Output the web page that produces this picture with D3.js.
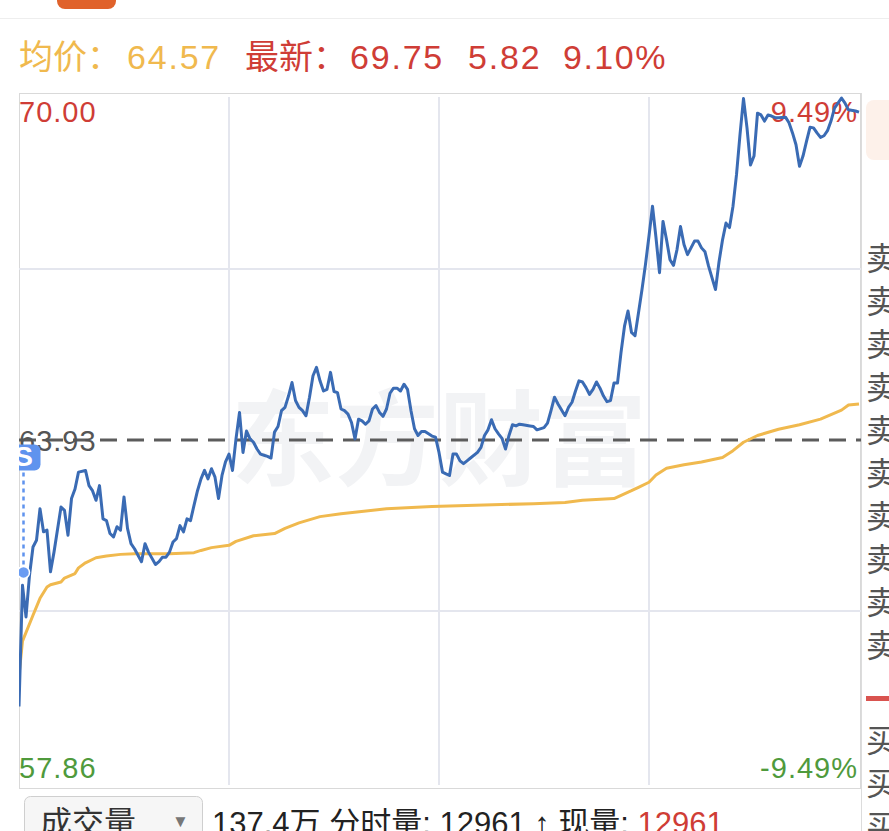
<!DOCTYPE html>
<html>
<head>
<meta charset="utf-8">
<script src="https://cdn.jsdelivr.net/npm/d3@7"></script>
<style>
  html, body { margin: 0; padding: 0; background: #fff; }
  svg { display: block; }
</style>
</head>
<body>
<script>
// ---- data ----
const preClose = 63.93;
const priceMax = 70.00, priceMin = 57.86;
const pctLabels = ['9.49%', '-9.49%'];

const avgPrice = 64.57, lastPrice = 69.75, change = 5.82, changePct = '9.10%';
const volTotal = '137.4万', tickVol = 12961, nowVol = 12961;

// minute index (0 = 9:30, 120 = 11:30/13:00, 240 = 15:00)
const minutes = [0,1,2,3,4,5,6,7,8,9,10,12,13,14,15,16,17,19,20,21,22,23,24,25,26,27,28,29,30,31,32,33,35,36,37,39,40,41,42,43,44,45,46,47,48,49,50,51,52,53,54,55,56,57,58,59,60,61,62,63,64,65,66,67,68,69,70,71,72,73,74,75,76,77,78,79,80,81,82,83,84,85,86,87,88,89,90,91,92,93,94,95,96,97,98,99,100,101,102,103,104,105,106,107,108,109,110,111,112,113,114,115,116,117,118,119,120,121,122,123,124,125,126,127,128,129,131,132,133,134,135,136,137,138,139,140,141,142,143,144,146,147,148,150,151,152,153,154,156,157,158,159,160,161,162,163,164,165,166,167,168,169,170,171,172,173,174,175,176,177,178,179,180,181,182,183,184,185,186,187,188,189,190,191,192,193,194,195,196,197,199,200,201,202,203,204,205,206,207,208,209,210,211,212,213,214,215,216,217,219,220,221,222,223,224,225,226,227,228,229,230,231,232,233,235,236,237,239,240];
const prices = [59.20,61.35,60.79,61.53,62.03,62.15,62.71,62.30,62.33,61.59,61.94,62.74,62.68,62.24,62.89,63.06,63.36,63.39,63.12,63.03,62.86,63.12,62.53,62.50,62.27,62.21,62.39,62.33,62.92,62.36,62.09,62.00,61.77,62.09,61.94,61.72,61.77,61.85,61.85,61.94,62.12,62.18,62.41,62.30,62.53,62.50,62.77,63.03,63.24,63.39,63.24,63.42,63.27,62.89,63.30,63.54,63.68,63.39,63.95,64.42,63.71,64.09,63.95,63.89,63.77,63.68,63.66,63.64,63.61,64.07,64.17,64.45,64.51,64.71,64.95,64.63,64.51,64.45,64.36,64.69,65.07,65.22,64.98,64.80,64.83,65.13,64.79,64.77,64.48,64.45,64.39,64.24,63.95,64.30,64.27,64.21,64.27,64.48,64.54,64.42,64.35,64.48,64.76,64.85,64.85,64.80,64.92,64.83,64.45,64.13,64.01,64.08,64.08,64.04,64.00,63.98,63.71,63.36,63.33,63.30,63.68,63.68,63.56,63.51,63.56,63.61,63.71,63.80,64.01,64.11,64.29,64.13,64.04,63.96,63.77,64.01,64.20,64.18,64.21,64.20,64.18,64.17,64.11,64.15,64.23,64.45,64.69,64.57,64.36,64.51,64.60,64.80,64.98,64.96,64.86,64.74,64.83,64.96,64.85,64.71,64.61,64.63,64.94,64.94,65.48,65.95,66.22,65.84,65.78,66.19,66.60,67.05,67.55,68.08,67.52,66.90,67.81,67.49,67.13,67.03,67.31,67.72,67.40,67.22,67.34,67.46,67.46,67.34,67.27,67.02,66.60,67.09,67.48,67.78,67.70,68.08,68.64,69.35,69.99,69.47,68.81,68.97,69.73,69.70,69.59,69.70,69.68,69.65,69.65,69.66,69.56,69.38,69.17,68.79,68.97,69.23,69.48,69.47,69.38,69.30,69.33,69.42,69.59,69.82,70.00,69.91,69.79,69.77,69.75];

const avgMinutes = [0,1,4,6,8,9,12,13,16,17,19,22,25,29,33,43,50,52,55,60,62,67,73,76,80,86,92,105,118,147,156,161,170,175,177,180,182,185,190,195,201,204,207,211,217,223,229,235,237,240];
const avgPrices = [59.75,60.36,60.82,61.12,61.32,61.36,61.41,61.48,61.56,61.66,61.75,61.84,61.87,61.90,61.91,61.91,61.93,61.97,62.02,62.06,62.13,62.23,62.27,62.36,62.46,62.57,62.62,62.71,62.75,62.80,62.82,62.86,62.89,63.03,63.09,63.18,63.31,63.43,63.49,63.54,63.62,63.74,63.89,64.01,64.12,64.20,64.30,64.46,64.55,64.57];

// trade marker (S) on the chart
const markMinute = [1], markPrice = [61.58], markLabel = ['S'];

// order book rows (cut off on the right)
const sellRows = ['卖','卖','卖','卖','卖','卖','卖','卖','卖','卖'];
const buyRows = ['买','买','买'];

// ---- layout ----
const W = 889, H = 831;
const frame = { left: 19, right: 861, top: 93, bottom: 789 };
const font = '"Liberation Sans", "Noto Sans CJK SC", sans-serif';
const red = '#cf3d36', green = '#4f9a3c', yellow = '#f0b94e', blue = '#3a6bb4';

const x = d3.scaleLinear().domain([0, 240]).range([19, 859]);
const y = d3.scaleLinear().domain([priceMin, priceMax]).range([782, 98]);

const svg = d3.select('body').append('svg')
    .attr('width', W).attr('height', H)
    .attr('viewBox', `0 0 ${W} ${H}`)
    .style('font-family', font);

svg.append('defs').append('clipPath').attr('id', 'plot-clip')
    .append('rect')
    .attr('x', frame.left).attr('y', frame.top)
    .attr('width', frame.right - frame.left).attr('height', frame.bottom - frame.top);

// top tab + divider
svg.append('rect').attr('x', 57).attr('y', -9).attr('width', 59).attr('height', 18)
    .attr('rx', 8).attr('fill', '#e0622b');
svg.append('line').attr('x1', 0).attr('x2', W).attr('y1', 18.5).attr('y2', 18.5)
    .attr('stroke', '#eeeeee').attr('stroke-width', 1);

// header line
const header = svg.append('g').attr('font-size', 34);
[
    { t: '均价：', x: 19, c: yellow, ls: 0 },
    { t: avgPrice.toFixed(2), x: 127, c: yellow, ls: 1.8 },
    { t: '最新：', x: 245, c: red, ls: 0 },
    { t: lastPrice.toFixed(2), x: 350, c: red, ls: 1.8 },
    { t: change.toFixed(2), x: 468, c: red, ls: 1.8 },
    { t: changePct, x: 563, c: red, ls: 1.5 }
].forEach(d => {
    header.append('text').attr('x', d.x).attr('y', 69)
        .attr('fill', d.c).attr('letter-spacing', d.ls).text(d.t);
});

// plot frame
svg.append('rect')
    .attr('x', frame.left + 0.5).attr('y', frame.top + 0.5)
    .attr('width', frame.right - frame.left - 1).attr('height', frame.bottom - frame.top - 1)
    .attr('fill', '#fff').attr('stroke', '#d9d9d9');

// watermark
svg.append('text')
    .attr('x', (x(0) + x(240)) / 2).attr('y', 478)
    .attr('text-anchor', 'middle')
    .attr('font-size', 104).attr('font-weight', 'bold')
    .attr('font-family', '"Noto Sans CJK SC", sans-serif')
    .attr('fill', '#f2f3f5')
    .text('东方财富');

// grid
const grid = svg.append('g').attr('stroke', '#e4e6ee').attr('stroke-width', 2);
grid.selectAll('line.v').data([60, 120, 180]).join('line')
    .attr('x1', d => x(d)).attr('x2', d => x(d))
    .attr('y1', y(priceMax) - 1).attr('y2', y(priceMin) + 3);
const q = (priceMax - preClose) / 2;
grid.selectAll('line.h').data([preClose + q, preClose - q]).join('line')
    .attr('x1', frame.left).attr('x2', frame.right)
    .attr('y1', d => y(d)).attr('y2', d => y(d));

// pre-close dashed line
svg.append('line')
    .attr('x1', frame.left).attr('x2', frame.right)
    .attr('y1', y(preClose)).attr('y2', y(preClose))
    .attr('stroke', '#5c5c5c').attr('stroke-width', 3)
    .attr('stroke-dasharray', '17,10');

// price labels
const labels = svg.append('g').attr('font-size', 29).attr('letter-spacing', 1);
labels.append('text').attr('x', 19).attr('y', 122).attr('fill', red).text(priceMax.toFixed(2));
labels.append('text').attr('x', 19).attr('y', y(preClose) + 11).attr('fill', '#555').text(preClose.toFixed(2));
labels.append('text').attr('x', 19).attr('y', 778).attr('fill', green).text(priceMin.toFixed(2));
labels.append('text').attr('x', 858).attr('y', 122).attr('text-anchor', 'end').attr('fill', red).text(pctLabels[0]);
labels.append('text').attr('x', 858).attr('y', 778).attr('text-anchor', 'end').attr('fill', green).text(pctLabels[1]);

// lines
const plot = svg.append('g').attr('clip-path', 'url(#plot-clip)');
const line = d3.line().x(d => x(d.m)).y(d => y(d.p));

const avgData = avgMinutes.map((m, i) => ({ m, p: avgPrices[i] }));
const priceData = minutes.map((m, i) => ({ m, p: prices[i] }));

plot.append('path').datum(avgData)
    .attr('d', line).attr('fill', 'none')
    .attr('stroke', yellow).attr('stroke-width', 3)
    .attr('stroke-linejoin', 'round');

plot.append('path').datum(priceData)
    .attr('d', line).attr('fill', 'none')
    .attr('stroke', blue).attr('stroke-width', 3)
    .attr('stroke-linejoin', 'round');

// trade marker: dot, dotted stem, badge (badge is half hidden by the frame)
markMinute.forEach((m, i) => {
    const mx = x(m) + 1, my = y(markPrice[i]);
    plot.append('line')
        .attr('x1', mx).attr('x2', mx).attr('y1', my).attr('y2', my - 104)
        .attr('stroke', '#5f93ee').attr('stroke-width', 2.5)
        .attr('stroke-dasharray', '4,4');
    plot.append('rect')
        .attr('x', mx - 16).attr('y', my - 128).attr('width', 33).attr('height', 26)
        .attr('rx', 6).attr('fill', '#5f93ee');
    plot.append('text')
        .attr('x', mx).attr('y', my - 106)
        .attr('text-anchor', 'middle').attr('font-size', 28).attr('font-weight', 'bold')
        .attr('fill', '#fff').text(markLabel[i]);
    plot.append('circle')
        .attr('cx', mx).attr('cy', my).attr('r', 6)
        .attr('fill', '#6a9cf2').attr('stroke', '#fff').attr('stroke-width', 1.5);
});

// right order-book strip
svg.append('line').attr('x1', 861.5).attr('x2', 861.5).attr('y1', frame.top).attr('y2', H)
    .attr('stroke', '#dcdcdc');
svg.append('rect').attr('x', 866).attr('y', 100).attr('width', 40).attr('height', 60)
    .attr('rx', 8).attr('fill', '#fdf1ea');
const book = svg.append('g').attr('font-size', 32).attr('fill', '#555')
    .attr('font-family', '"Noto Sans CJK SC", sans-serif');
book.selectAll('text.s').data(sellRows).join('text')
    .attr('x', 866).attr('y', (d, i) => 270 + i * 43).text(d => d);
svg.append('rect').attr('x', 866).attr('y', 696).attr('width', 30).attr('height', 5)
    .attr('fill', '#d9534f');
book.selectAll('text.b').data(buyRows).join('text')
    .attr('x', 866).attr('y', (d, i) => 752 + i * 43).text(d => d);

// bottom volume bar
svg.append('rect').attr('x', 24.5).attr('y', 796.5).attr('width', 178).attr('height', 50)
    .attr('rx', 6).attr('fill', '#f6f6f6').attr('stroke', '#cfcfcf');
svg.append('text').attr('x', 40).attr('y', 834).attr('font-size', 32).attr('fill', '#333')
    .attr('font-family', '"Noto Sans CJK SC", sans-serif').text('成交量');
svg.append('text').attr('x', 172).attr('y', 827).attr('font-size', 17).attr('fill', '#777').text('▼');

const vol = svg.append('text').attr('x', 212).attr('y', 834).attr('font-size', 31).attr('fill', '#222');
vol.append('tspan').text(`${volTotal} 分时量: ${tickVol} ↑ 现量: `);
vol.append('tspan').attr('fill', red).text(nowVol);
</script>
</body>
</html>
